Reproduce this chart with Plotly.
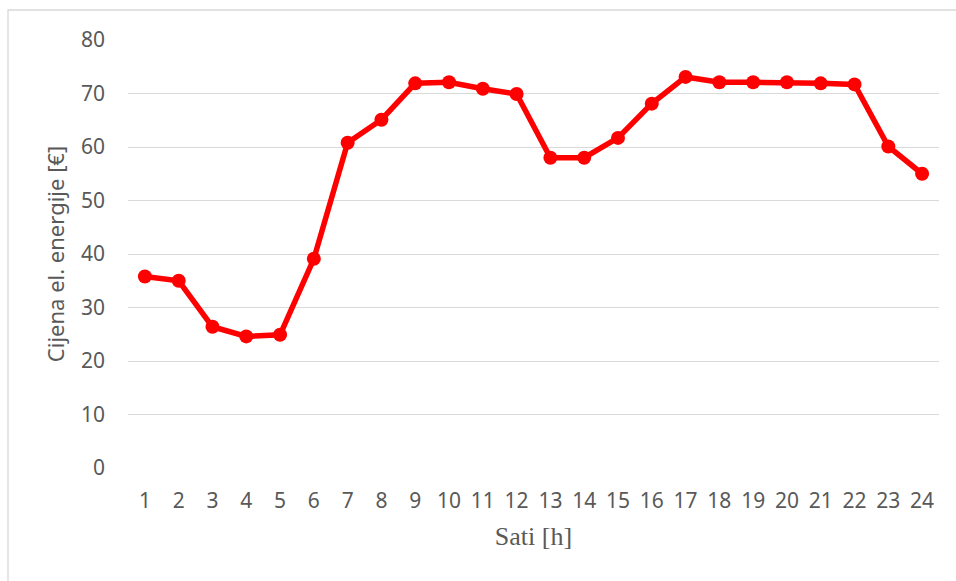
import plotly.graph_objects as go

sati = [str(h) for h in range(1, 25)]
cijena = [35.8, 35.0, 26.4, 24.6, 24.9, 39.1, 60.8, 65.1, 71.9, 72.1, 70.9, 69.9,
          58.0, 58.0, 61.7, 68.1, 73.1, 72.1, 72.1, 72.1, 71.9, 71.7, 60.1, 55.0]
y_ticks = [0, 10, 20, 30, 40, 50, 60, 70, 80]

W, H = 956, 581
L, R, T, B = 128, 17, 40, 113
pw, ph = W - L - R, H - T - B

fig = go.Figure(
    go.Scatter(
        x=sati,
        y=cijena,
        mode="lines+markers",
        line=dict(color="#ff0000", width=5.5),
        marker=dict(color="#ff0000", size=14),
        hoverinfo="x+y",
    )
)

grey_font = dict(family="Noto Sans, Open Sans, sans-serif", size=21, color="#595959")

fig.update_layout(
    width=W,
    height=H,
    margin=dict(l=L, r=R, t=T, b=B, autoexpand=False),
    paper_bgcolor="white",
    plot_bgcolor="white",
    showlegend=False,
    font=grey_font,
)
fig.update_xaxes(
    type="category",
    range=[-0.5, len(sati) - 0.5],
    showgrid=False,
    showline=False,
    zeroline=False,
    tickfont=grey_font,
    ticklabelstandoff=18,
    title=dict(text="Sati [h]", font=dict(family="Liberation Serif, serif", size=26, color="#595959"), standoff=13),
)
fig.update_yaxes(
    range=[0, 80],
    tickvals=y_ticks,
    showgrid=True,
    gridcolor="#d9d9d9",
    gridwidth=1.3,
    zeroline=False,
    showline=False,
    tickfont=grey_font,
    ticklabelstandoff=22,
    title=dict(text="Cijena el. energije [€]", font=dict(family="Noto Sans, sans-serif", size=22, color="#595959"), standoff=10),
)

# chart frame: only the top and left edges fall inside the picture
fig.add_shape(
    type="rect",
    xref="paper",
    yref="paper",
    x0=(8 - L) / pw,
    x1=(975 - L) / pw,
    y0=(H - B - 600) / ph,
    y1=(H - B - 10) / ph,
    line=dict(color="#d9d9d9", width=1.3),
    fillcolor="rgba(0,0,0,0)",
    layer="below",
)

fig.write_html(
    "out.html",
    config={"displayModeBar": False},
    post_script="document.body.style.margin='0';",
)
